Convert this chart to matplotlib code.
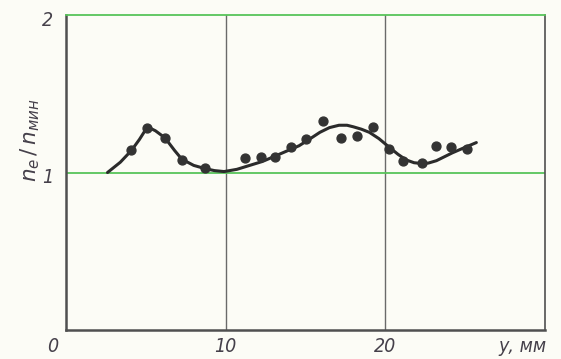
import matplotlib
matplotlib.use("Agg")
import matplotlib.pyplot as plt
import matplotlib.transforms as mtransforms

# measured points
pts_x = [4.1, 5.1, 6.2, 7.25, 8.7, 11.2, 12.2, 13.1, 14.1, 15.0, 16.1, 17.25, 18.2, 19.25,
         20.25, 21.1, 22.3, 23.2, 24.1, 25.1]
pts_y = [1.14, 1.28, 1.22, 1.08, 1.03, 1.09, 1.10, 1.10, 1.16, 1.21, 1.33, 1.22, 1.23, 1.29,
         1.15, 1.07, 1.06, 1.17, 1.16, 1.15]

# hand-drawn fitted curve
curve_x = [2.6, 3.4, 4.1, 4.6, 5.1, 5.6, 6.2, 6.8, 7.25, 8.0, 8.7, 9.3, 9.9, 10.7, 11.5, 12.3,
           13.0, 13.8, 14.6, 15.3, 15.9, 16.5, 17.1, 17.6, 18.0, 18.5, 19.0, 19.6, 20.25, 20.8,
           21.3, 21.8, 22.3, 22.7, 23.2, 23.7, 24.2, 25.0, 25.7]
curve_y = [1.00, 1.065, 1.14, 1.21, 1.29, 1.265, 1.22, 1.14, 1.085, 1.045, 1.025, 1.012, 1.006,
           1.02, 1.045, 1.07, 1.10, 1.135, 1.17, 1.215, 1.255, 1.285, 1.30, 1.30, 1.29, 1.275,
           1.255, 1.215, 1.16, 1.115, 1.08, 1.062, 1.057, 1.06, 1.075, 1.10, 1.125, 1.16, 1.19]

xticks = [0, 10, 20, 30]
xtick_labels = ["0", "10", "20", "у, мм"]
yticks = [1, 2]
ytick_labels = ["1", "2"]

bg = "#fcfcf6"
ink = "#2b2b2b"
green = "#58c45a"
txt = "#45404a"

fig = plt.figure(figsize=(5.61, 3.59), dpi=100, facecolor=bg)
ax = fig.add_axes([66 / 561, 1 - 330 / 359, (545 - 66) / 561, (330 - 15) / 359])
ax.set_facecolor(bg)

ax.set_xlim(0, 30)
ax.set_ylim(0, 2)

# grid
for gx in [10, 20]:
    ax.axvline(gx, color="#6a6a6a", lw=1.0, zorder=1)
ax.axhline(1, color=green, lw=1.3, zorder=1)

ax.plot(curve_x, curve_y, color=ink, lw=2.2, solid_joinstyle="round", solid_capstyle="round", zorder=3)
ax.plot(pts_x, pts_y, "o", color="#333333", ms=6.4, zorder=4)

for side in ["left", "right", "bottom"]:
    ax.spines[side].set_color("#505050")
ax.spines["left"].set_linewidth(1.8)
ax.spines["bottom"].set_linewidth(1.8)
ax.spines["right"].set_linewidth(1.2)
ax.spines["top"].set_color(green)
ax.spines["top"].set_linewidth(1.3)

font = dict(family="DejaVu Sans", style="italic", stretch="condensed", size=14, color=txt)

ax.set_xticks(xticks)
ax.set_xticklabels(xtick_labels, **font)
ax.set_yticks(yticks)
ax.set_yticklabels(ytick_labels, **font)
ax.tick_params(axis="both", length=0)
ax.tick_params(axis="x", pad=5)
ax.tick_params(axis="y", pad=9)

xl = ax.get_xticklabels()
xl[0].set_transform(xl[0].get_transform() + mtransforms.ScaledTranslation(-13 / 100, 0, fig.dpi_scale_trans))
xl[-1].set_horizontalalignment("right")
xl[-1].set_transform(xl[-1].get_transform() + mtransforms.ScaledTranslation(2 / 100, 0, fig.dpi_scale_trans))
yl = ax.get_yticklabels()
for t in yl:
    t.set_transform(t.get_transform() + mtransforms.ScaledTranslation(0, -3 / 100, fig.dpi_scale_trans))

fig.text(30 / 561, 1 - 140 / 359, r"$n_e\,/\,n_{мин}$", rotation=90, ha="center", va="center",
         fontsize=15.5, color=txt)

fig.savefig("out.png", dpi=100, facecolor=bg)
